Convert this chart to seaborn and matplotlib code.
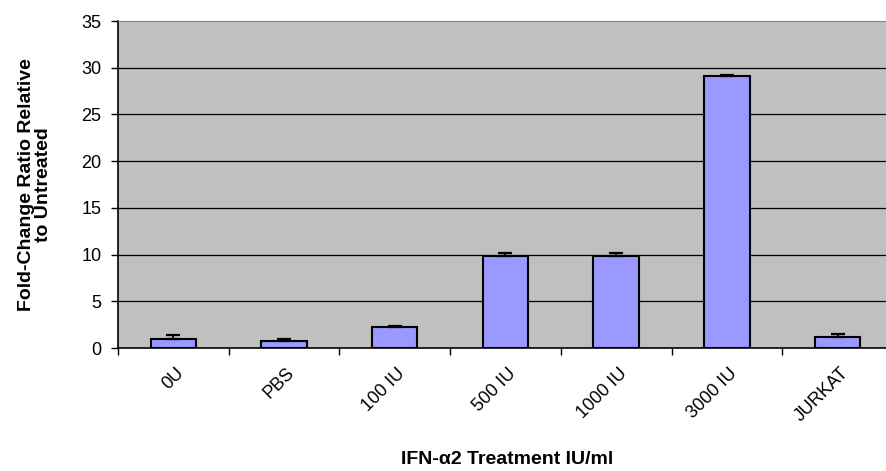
import numpy as np
import pandas as pd
import matplotlib
matplotlib.use('Agg')
import matplotlib.pyplot as plt
import matplotlib.transforms as mtransforms
import seaborn as sns

# Данные
categories = ['0U', 'PBS', '100 IU', '500 IU', '1000 IU', '3000 IU', 'JURKAT']
fold_change = [1.0, 0.75, 2.2, 9.9, 9.9, 29.1, 1.2]
err_up = [0.35, 0.2, 0.2, 0.3, 0.3, 0.1, 0.25]
y_ticks = [0, 5, 10, 15, 20, 25, 30, 35]

sns.set_style('white')
plt.rcParams['font.family'] = ['Liberation Sans', 'DejaVu Sans']
plt.rcParams['text.color'] = 'black'
plt.rcParams['axes.labelcolor'] = 'black'
plt.rcParams['xtick.color'] = 'black'
plt.rcParams['ytick.color'] = 'black'

df = pd.DataFrame({'treatment': categories, 'fold': fold_change})

fig = plt.figure(figsize=(8.86, 4.71), dpi=100)
ax = fig.add_axes([0.1332, 0.2611, 0.8746, 0.6943])
ax.set_facecolor('#C0C0C0')

sns.barplot(data=df, x='treatment', y='fold', color='#9999FF', saturation=1,
            width=0.41, edgecolor='black', linewidth=1.5, errorbar=None, ax=ax,
            zorder=3)

# Планки погрешностей только вверх
x = np.arange(len(categories))
ax.errorbar(x, fold_change, yerr=[np.zeros(len(err_up)), err_up], fmt='none',
            ecolor='black', elinewidth=1.3, capsize=5, capthick=1.6, zorder=4)

# Сетка
for v in y_ticks[1:-1]:
    ax.axhline(v, color='black', linewidth=0.9, zorder=1)

ax.set_ylim(0, 35)
ax.set_xlim(-0.5, len(categories) - 0.5)
ax.set_yticks(y_ticks)
ax.tick_params(axis='y', direction='out', length=5, width=1, color='black',
               labelsize=13, pad=7, left=True)

ax.set_xticks(x)
ax.set_xticks(np.arange(len(categories) + 1) - 0.5, minor=True)
ax.tick_params(axis='x', which='major', length=0, pad=12, labelsize=13)
ax.tick_params(axis='x', which='minor', direction='out', length=5, width=1,
               color='black', bottom=True)
labels = ax.set_xticklabels(categories, rotation=45, ha='right', va='top',
                            rotation_mode='anchor')
shift = mtransforms.ScaledTranslation(2 / 100, 0, fig.dpi_scale_trans)
for lab in labels:
    lab.set_transform(lab.get_transform() + shift)

for side in ['left', 'bottom']:
    ax.spines[side].set_color('black')
    ax.spines[side].set_linewidth(1.2)
ax.spines['top'].set_color('#808080')
ax.spines['top'].set_linewidth(0.8)
ax.spines['right'].set_visible(False)

ax.set_xlabel('')
fig.text(0.572, 0.006, 'IFN-α2 Treatment IU/ml', fontsize=14,
         fontweight='bold', ha='center', va='bottom')
ax.set_ylabel('Fold-Change Ratio Relative\nto Untreated', fontsize=14,
              fontweight='bold', labelpad=21, linespacing=1.0)

fig.savefig('out.png', dpi=100)
